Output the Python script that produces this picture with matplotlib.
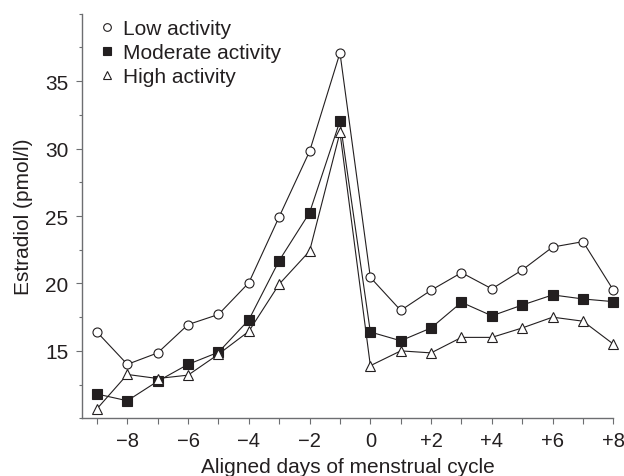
"""
Estradiol by aligned day of menstrual cycle, three activity groups.
"""
import matplotlib
matplotlib.use("Agg")
import matplotlib.pyplot as plt
from matplotlib.ticker import MultipleLocator, FixedLocator, FixedFormatter

plt.rcParams["font.family"] = ["Liberation Sans", "DejaVu Sans"]

INK = "#231f20"
AXIS = "#6d6e71"
FS = 15

days = list(range(-9, 9))

low = [16.4, 14.0, 14.85, 16.95, 17.7, 20.05, 24.95, 29.8, 37.1,
       20.45, 18.0, 19.5, 20.8, 19.6, 21.0, 22.7, 23.1, 19.5]
moderate = [11.8, 11.3, 12.75, 14.0, 14.9, 17.3, 21.7, 25.25, 32.05,
            16.4, 15.75, 16.7, 18.6, 17.6, 18.4, 19.15, 18.85, 18.65]
high = [10.7, 13.25, 12.95, 13.2, 14.75, 16.45, 19.95, 22.4, 31.2,
        13.9, 15.0, 14.85, 16.0, 16.0, 16.7, 17.5, 17.2, 15.5]

labels = ["Low activity", "Moderate activity", "High activity"]
x_tick_labels = ["", "\u22128", "", "\u22126", "", "\u22124", "", "\u22122", "",
                 "0", "", "+2", "", "+4", "", "+6", "", "+8"]
y_ticks = [15, 20, 25, 30, 35]

fig = plt.figure(figsize=(6.24, 4.77), dpi=100)
ax = fig.add_axes([0.131, 0.121, 0.852, 0.848])

styles = [
    dict(marker="o", markersize=6.5, markerfacecolor="white"),
    dict(marker="s", markersize=7.5, markerfacecolor=INK),
    dict(marker="^", markersize=6.5, markerfacecolor="white"),
]
for series, st in zip([low, moderate, high], styles):
    ax.plot(days, series, color=INK, linewidth=0.8,
            markeredgecolor=INK, markeredgewidth=0.8,
            clip_on=False, zorder=3, **st)

ax.set_xlim(-9.5, 8)
ax.set_ylim(10, 40)

ax.xaxis.set_major_locator(FixedLocator(days))
ax.xaxis.set_major_formatter(FixedFormatter(x_tick_labels))
ax.yaxis.set_major_locator(FixedLocator(y_ticks))
ax.yaxis.set_minor_locator(MultipleLocator(2.5))

for side in ("top", "right"):
    ax.spines[side].set_visible(False)
for side in ("left", "bottom"):
    ax.spines[side].set_color(AXIS)
    ax.spines[side].set_linewidth(1.0)

ax.tick_params(axis="both", which="major", length=4, width=0.8,
               color=AXIS, labelcolor=INK, labelsize=FS)
ax.tick_params(axis="y", which="minor", length=2.2, width=0.8, color=AXIS)
ax.tick_params(axis="x", pad=5, labelsize=14.5)
ax.tick_params(axis="y", pad=5.5)

ax.set_xlabel("Aligned days of menstrual cycle", fontsize=FS, color=INK, labelpad=5)
ax.set_ylabel("Estradiol (pmol/l)", fontsize=FS, color=INK, labelpad=9)

leg_handles = []
for st in styles:
    h, = ax.plot([], [], linestyle="none", color=INK, markeredgecolor=INK,
                 markeredgewidth=0.8, **{**st, "markersize": st["markersize"] * 0.85})
    leg_handles.append(h)
ax.legend(leg_handles, labels, loc="upper left", bbox_to_anchor=(0.158, 0.958),
          bbox_transform=fig.transFigure, frameon=False, fontsize=FS,
          handlelength=0.8, handletextpad=0.37, labelspacing=0.25,
          borderaxespad=0, borderpad=0, labelcolor=INK)

fig.savefig("out.png", dpi=100)
